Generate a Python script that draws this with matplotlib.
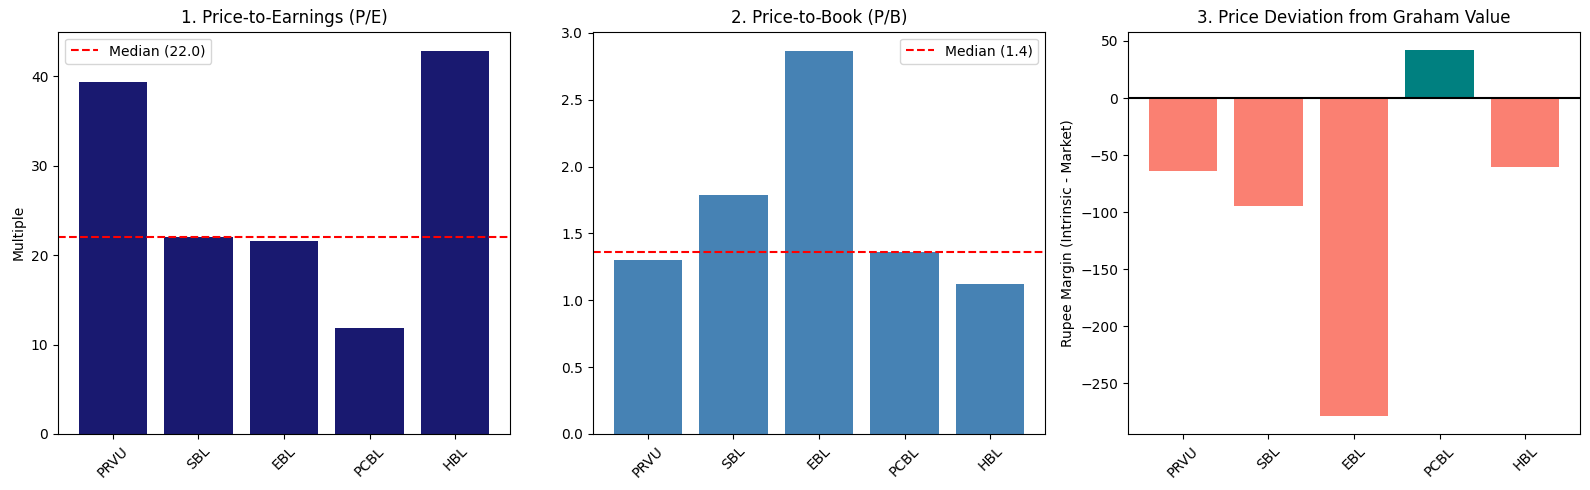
import matplotlib
matplotlib.use("Agg")
import matplotlib.pyplot as plt
from matplotlib.ticker import MultipleLocator
import numpy as np

tickers = ["PRVU", "SBL", "EBL", "PCBL", "HBL"]
pe_values = [39.37, 22.0, 21.6, 11.88, 42.83]
pb_values = [1.304, 1.79, 2.866, 1.365, 1.124]
margin_values = [-64.0, -94.3, -278.3, 42.1, -60.2]

fig, axes = plt.subplots(1, 3, figsize=(15.9, 4.9), dpi=100)
fig.subplots_adjust(left=0.0365, right=0.9937, bottom=0.1143, top=0.9353, wspace=0.1836)

ax = axes[0]
ax.bar(tickers, pe_values, color="midnightblue")
pe_med = float(np.median(pe_values))
ax.axhline(pe_med, color="red", linestyle="--", label=f"Median ({pe_med:.1f})")
ax.set_title("1. Price-to-Earnings (P/E)")
ax.set_ylabel("Multiple")
ax.yaxis.set_major_locator(MultipleLocator(10))
ax.legend(loc="upper left")
ax.tick_params(axis="x", rotation=45)

ax = axes[1]
ax.bar(tickers, pb_values, color="steelblue")
pb_med = float(np.median(pb_values))
ax.axhline(pb_med, color="red", linestyle="--", label=f"Median ({pb_med:.1f})")
ax.set_title("2. Price-to-Book (P/B)")
ax.legend(loc="upper right")
ax.tick_params(axis="x", rotation=45)

ax = axes[2]
colors = ["teal" if v > 0 else "salmon" for v in margin_values]
ax.bar(tickers, margin_values, color=colors)
ax.axhline(0, color="black", linewidth=1.5)
ax.set_title("3. Price Deviation from Graham Value")
ax.set_ylabel("Rupee Margin (Intrinsic - Market)")
ax.tick_params(axis="x", rotation=45)

fig.savefig("out.png", dpi=100)
